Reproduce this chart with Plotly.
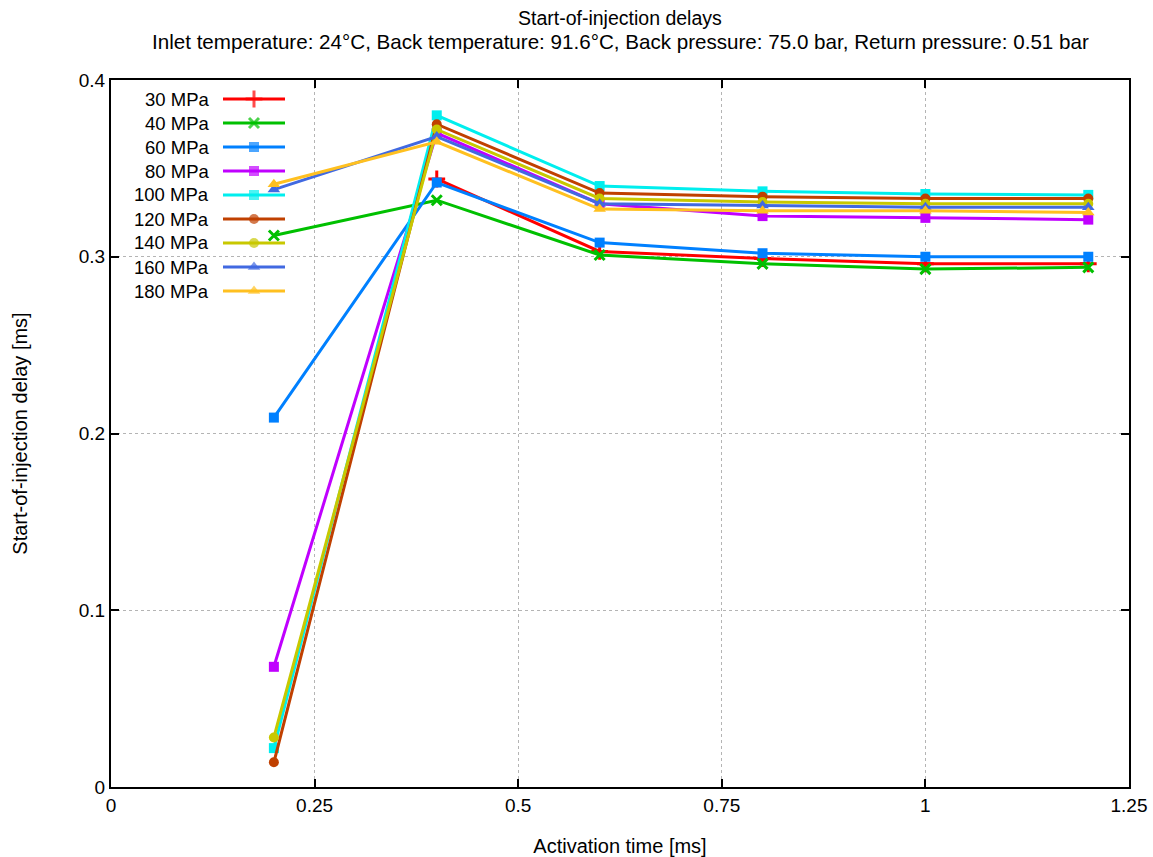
import plotly.graph_objects as go

activation_time = [0.2, 0.4, 0.6, 0.8, 1.0, 1.2]
series_names = ["30 MPa", "40 MPa", "60 MPa", "80 MPa", "100 MPa", "120 MPa", "140 MPa", "160 MPa", "180 MPa"]
delay_30 = [None, 0.344, 0.303, 0.299, 0.296, 0.296]
delay_40 = [0.312, 0.332, 0.301, 0.296, 0.293, 0.294]
delay_60 = [0.209, 0.342, 0.308, 0.302, 0.300, 0.300]
delay_80 = [0.068, 0.370, 0.330, 0.323, 0.322, 0.321]
delay_100 = [0.022, 0.380, 0.340, 0.337, 0.3355, 0.335]
delay_120 = [0.014, 0.375, 0.336, 0.334, 0.333, 0.333]
delay_140 = [0.028, 0.372, 0.333, 0.331, 0.330, 0.330]
delay_160 = [0.338, 0.368, 0.330, 0.329, 0.328, 0.328]
delay_180 = [0.341, 0.365, 0.327, 0.326, 0.326, 0.325]
all_delays = [delay_30, delay_40, delay_60, delay_80, delay_100, delay_120, delay_140, delay_160, delay_180]

x_ticks = [0, 0.25, 0.5, 0.75, 1.0, 1.25]
x_tick_labels = ["0", "0.25", "0.5", "0.75", "1", "1.25"]
y_ticks = [0, 0.1, 0.2, 0.3, 0.4]
y_tick_labels = ["0", "0.1", "0.2", "0.3", "0.4"]

title_line1 = "Start-of-injection delays"
title_line2 = "Inlet temperature: 24°C, Back temperature: 91.6°C, Back pressure: 75.0 bar, Return pressure: 0.51 bar"
x_title = "Activation time [ms]"
y_title = "Start-of-injection delay [ms]"

colors = ["#ff0000", "#00c000", "#0080ff", "#c000ff", "#00eeee", "#c04000", "#c8c800", "#4169e1", "#ffc020"]
symbols = ["cross-thin", "x-thin", "square", "square", "square", "circle", "circle", "triangle-up", "triangle-up"]
sizes = [12, 10, 10, 10, 10, 10, 10, 11, 11]

W, H = 1153, 857
L, R, T, B = 111, 1129, 80, 787
FONT = "Liberation Sans, Arial, sans-serif"

fig = go.Figure()

def marker_dict(i, size):
    thin = symbols[i].endswith("-thin")
    return dict(symbol=symbols[i], size=size, color=colors[i],
                line=dict(color=colors[i], width=3 if thin else 0))

for i, (name, ys) in enumerate(zip(series_names, all_delays)):
    fig.add_trace(go.Scatter(x=activation_time, y=ys, name=name, mode="lines+markers",
                             line=dict(color=colors[i], width=3),
                             marker=marker_dict(i, sizes[i]), showlegend=False))

def fx(px):
    return (px - L) / (R - L)

def fy(py):
    return (B - py) / (B - T)

# custom gnuplot-style key: text on the left, sample on the right
key_x0, key_x1, key_xm = 223, 285, 254
key_y0, key_dy = 99, 24
for i, name in enumerate(series_names):
    py = key_y0 + i * key_dy
    fig.add_trace(go.Scatter(x=[fx(key_x0), fx(key_xm), fx(key_x1)], y=[fy(py)] * 3,
                             mode="lines+markers", xaxis="x2", yaxis="y2",
                             line=dict(color=colors[i], width=3),
                             marker=dict(marker_dict(i, sizes[i]), size=[0, sizes[i], 0]),
                             showlegend=False, hoverinfo="skip"))
    fig.add_annotation(x=fx(211), y=fy(py), xref="paper", yref="paper", text=name,
                       showarrow=False, xanchor="right", yanchor="middle",
                       font=dict(family=FONT, size=18.5, color="black"))

fig.add_annotation(x=fx((L + R) / 2), y=fy(18), xref="paper", yref="paper", text=title_line1,
                   showarrow=False, xanchor="center", yanchor="middle",
                   font=dict(family=FONT, size=19.5, color="black"))
fig.add_annotation(x=fx((L + R) / 2), y=fy(42), xref="paper", yref="paper", text=title_line2,
                   showarrow=False, xanchor="center", yanchor="middle",
                   font=dict(family=FONT, size=20.6, color="black"))

axis_common = dict(showline=True, linecolor="black", linewidth=2, mirror="ticks",
                   ticks="inside", ticklen=8, tickwidth=1.5, tickcolor="black",
                   showgrid=True, gridcolor="#b4b4b4", griddash="dot", gridwidth=1,
                   zeroline=False, automargin=False,
                   tickfont=dict(family=FONT, size=19, color="black"))

fig.update_layout(
    width=W, height=H,
    margin=dict(l=L, r=W - R, t=T, b=H - B, autoexpand=False),
    paper_bgcolor="white", plot_bgcolor="white",
    xaxis=dict(axis_common, range=[0, 1.25], tickvals=x_ticks, ticktext=x_tick_labels,
               title=dict(text=x_title, font=dict(family=FONT, size=20, color="black"), standoff=28)),
    yaxis=dict(axis_common, range=[0, 0.4], tickvals=y_ticks, ticktext=y_tick_labels,
               title=dict(text=y_title, font=dict(family=FONT, size=20, color="black"), standoff=46)),
    xaxis2=dict(overlaying="x", range=[0, 1], visible=False, fixedrange=True),
    yaxis2=dict(overlaying="y", range=[0, 1], visible=False, fixedrange=True),
    font=dict(family=FONT, size=18, color="black"),
)

fig.write_html("out.html")
